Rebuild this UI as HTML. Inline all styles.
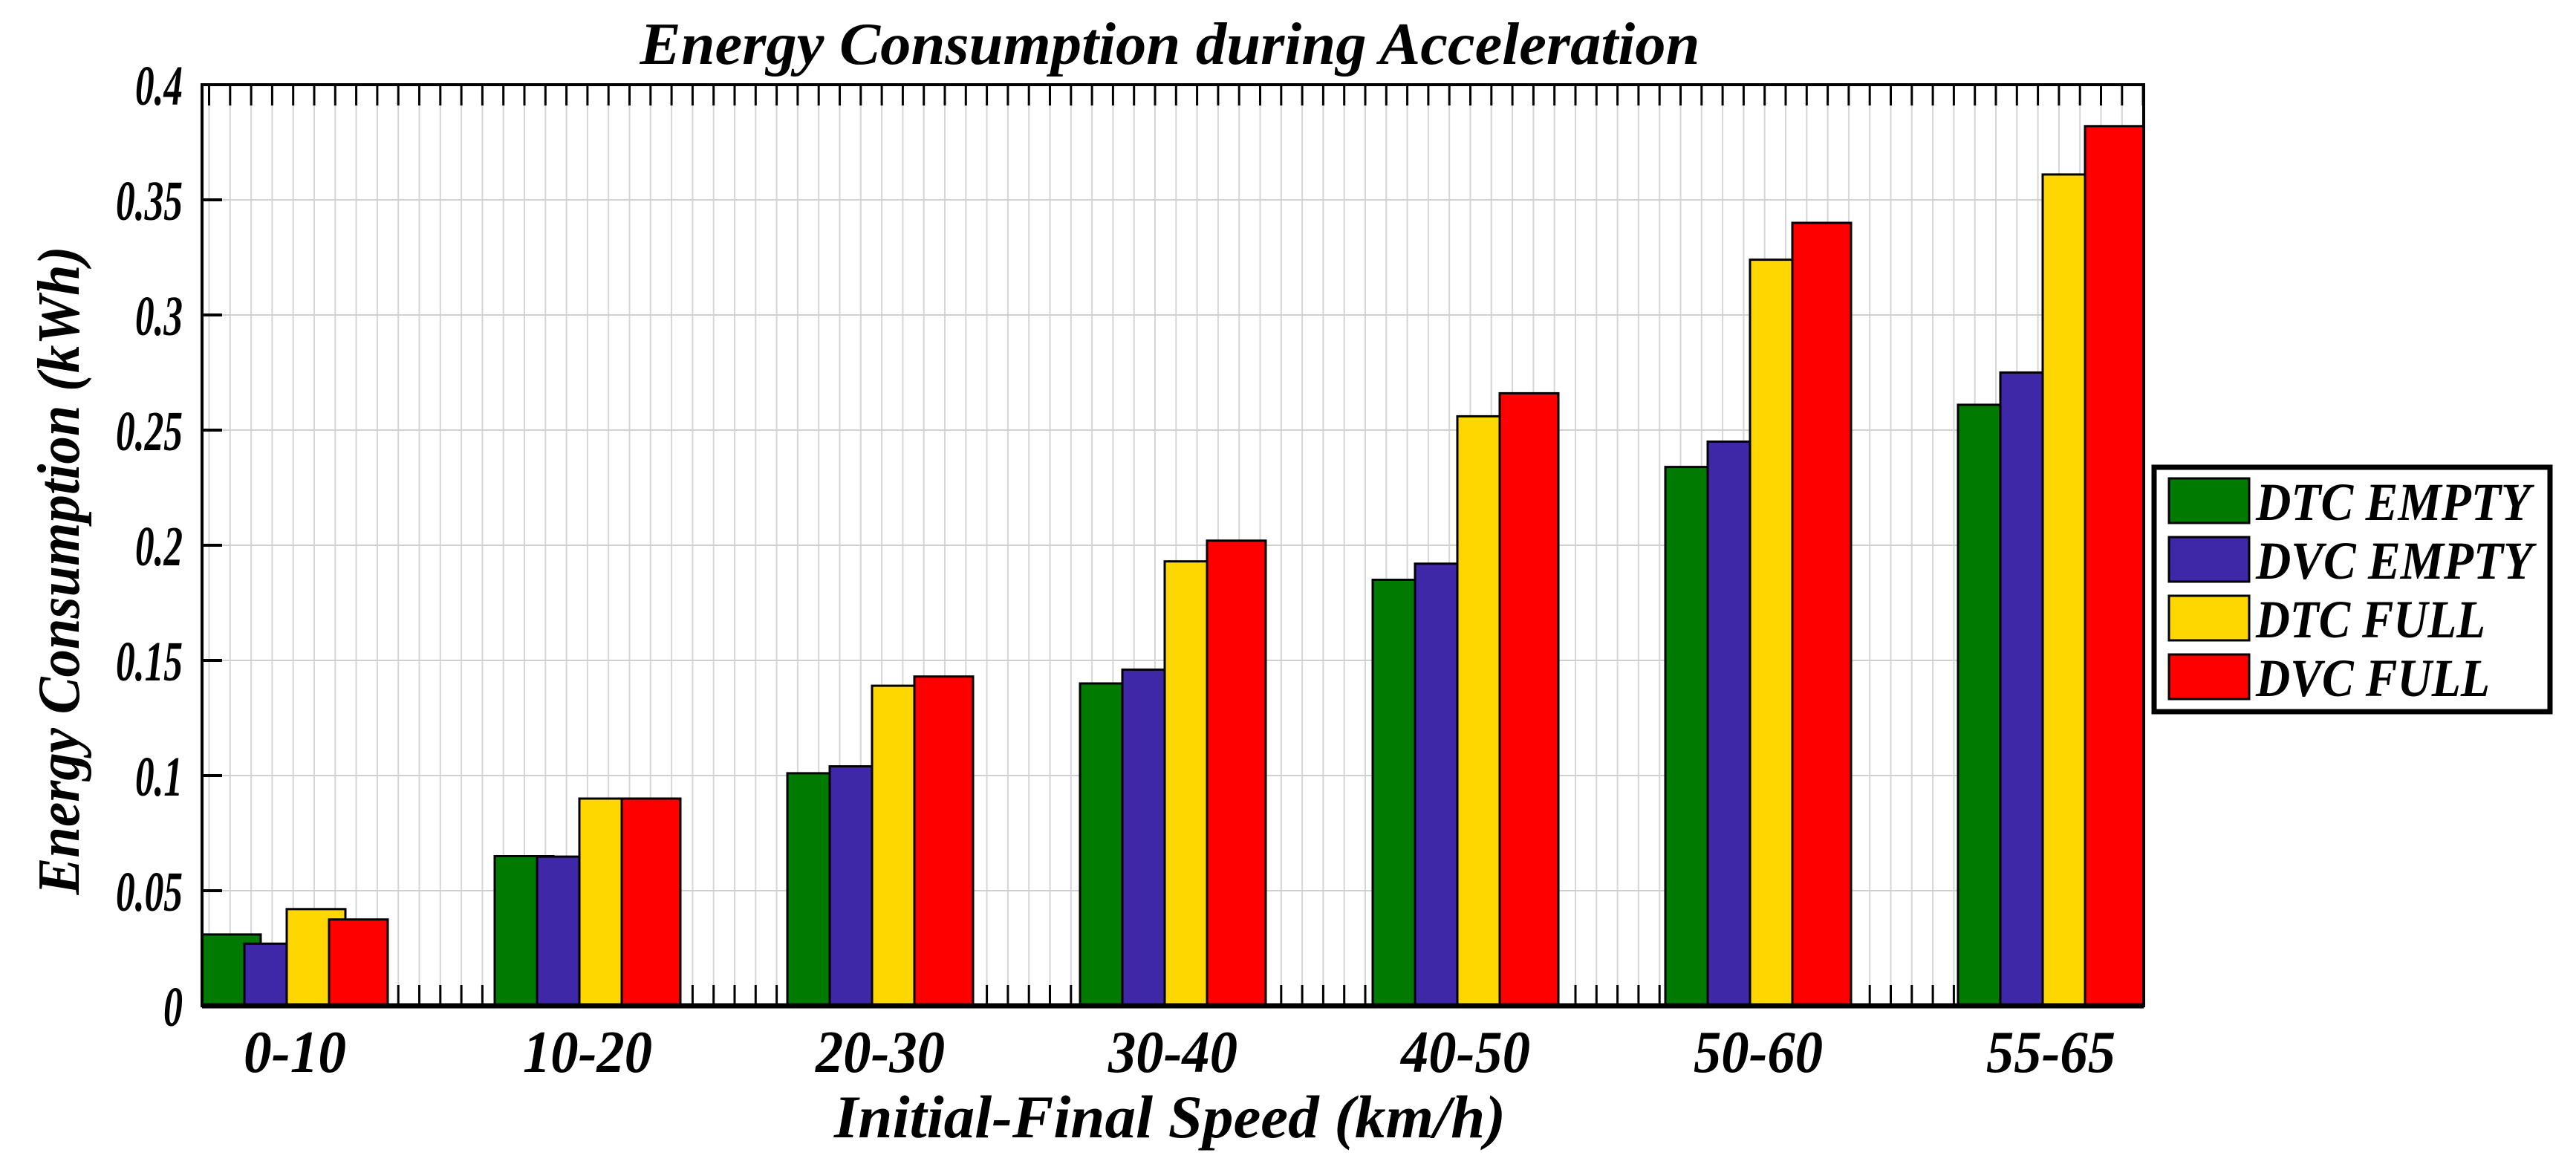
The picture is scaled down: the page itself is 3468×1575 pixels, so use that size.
<!DOCTYPE html>
<html><head><meta charset="utf-8"><style>
html,body{margin:0;padding:0;background:#fff;}
svg{display:block;font-family:"Liberation Serif",serif;font-style:italic;font-weight:bold;}
</style></head><body>
<svg id="chart" width="3468" height="1575" viewBox="0 0 3468 1575" xmlns="http://www.w3.org/2000/svg">
<rect width="3468" height="1575" fill="#fff"/>
<g id="grid"></g>
<g id="bars"></g>
<g id="axes"></g>
<text x="1575" y="86" font-size="80" text-anchor="middle" textLength="1427" lengthAdjust="spacingAndGlyphs">Energy Consumption during Acceleration</text>
<text x="1575" y="1531" font-size="82" text-anchor="middle" textLength="904" lengthAdjust="spacingAndGlyphs">Initial-Final Speed (km/h)</text>
<text transform="translate(106,768) rotate(-90)" x="0" y="0" font-size="80" text-anchor="middle" textLength="873" lengthAdjust="spacingAndGlyphs">Energy Consumption (kWh)</text>
<g>
<rect x="2900" y="629" width="533" height="329" fill="#fff" stroke="#000" stroke-width="7"/>
<g id="legend-items"></g>
</g>
</svg>
<script>
const categories = ["0-10","10-20","20-30","30-40","40-50","50-60","55-65"];
const seriesNames = ["DTC EMPTY","DVC EMPTY","DTC FULL","DVC FULL"];
const dtcEmpty = [0.031,0.065,0.101,0.140,0.185,0.234,0.261];
const dvcEmpty = [0.027,0.0648,0.104,0.146,0.192,0.245,0.275];
const dtcFull  = [0.042,0.090,0.139,0.193,0.256,0.324,0.361];
const dvcFull  = [0.0375,0.090,0.143,0.202,0.266,0.340,0.382];
const yTicks = [0,0.05,0.1,0.15,0.2,0.25,0.3,0.35,0.4];
const yTickLabels = ["0","0.05","0.1","0.15","0.2","0.25","0.3","0.35","0.4"];

const NS="http://www.w3.org/2000/svg";
const colors=["#007a00","#3f28a8","#ffd700","#ff0000"];
const series=[dtcEmpty,dvcEmpty,dtcFull,dvcFull];
const L=272,R=2886,T=114,B=1354,yMax=0.4;
const groupPitch=394,barStep=57,barW=79;
function yScale(v){return B-(v/yMax)*(B-T);}
function groupX(i){return L+i*groupPitch;}
function mk(tag,attrs,parent){const e=document.createElementNS(NS,tag);for(const k in attrs)e.setAttribute(k,attrs[k]);parent.appendChild(e);return e;}
function lenOf(s,d,o){let w=0;for(const ch of s){w+=(ch>='0'&&ch<='9')?d:o;}return w;}
const grid=document.getElementById('grid'),bars=document.getElementById('bars'),axes=document.getElementById('axes');
for(let x=281.5;x<R;x+=28.3){
  const g=mk('line',{x1:x,x2:x,y1:T,y2:B,stroke:'#d6d6d6','stroke-width':2},grid);
  
  
  mk('line',{x1:x,x2:x,y1:T,y2:T+28,stroke:'#000','stroke-width':3},axes);
  mk('line',{x1:x,x2:x,y1:B,y2:B-28,stroke:'#000','stroke-width':3},grid);
}
yTicks.forEach((v,i)=>{
  const y=yScale(v);
  const g=mk('line',{x1:L,x2:R,y1:y,y2:y,stroke:'#d0d0d0','stroke-width':2},grid);
  
  
  mk('line',{x1:L,x2:L+27,y1:y,y2:y,stroke:'#000','stroke-width':4},axes);
  const lab=yTickLabels[i];
  const t=mk('text',{x:246,y:y+27,'font-size':76,'text-anchor':'end',textLength:lenOf(lab,26,12),lengthAdjust:'spacingAndGlyphs'},axes);
  t.textContent=lab;
  
  
});
categories.forEach((c,i)=>{
  const gx=groupX(i);
  series.forEach((s,k)=>{
    const y=yScale(s[i]);
    const r=mk('rect',{x:gx+k*barStep,y:y,width:barW,height:B-y,fill:colors[k],stroke:'#000','stroke-width':3},bars);
    
    
  });
  const t=mk('text',{x:gx+125,y:1443,'font-size':80,'text-anchor':'middle',textLength:lenOf(c,36,30),lengthAdjust:'spacingAndGlyphs'},axes);
  t.textContent=c;
  
  
});
const box=mk('rect',{x:L,y:T,width:R-L,height:B-T,fill:'none',stroke:'#000','stroke-width':4},axes);


mk('line',{x1:L,x2:R,y1:B,y2:B,stroke:'#000','stroke-width':7},axes);
const li=document.getElementById('legend-items');
const lw=[370,373,309,315];
seriesNames.forEach((n,k)=>{
  const y=644+k*79;
  const sw=mk('rect',{x:2920,y:y,width:108,height:60,fill:colors[k],stroke:'#000','stroke-width':3},li);
  
  
  const t=mk('text',{x:3037,y:y+56,'font-size':72,textLength:lw[k],lengthAdjust:'spacingAndGlyphs'},li);
  t.textContent=n;
  
  
});
</script>
</body></html>
